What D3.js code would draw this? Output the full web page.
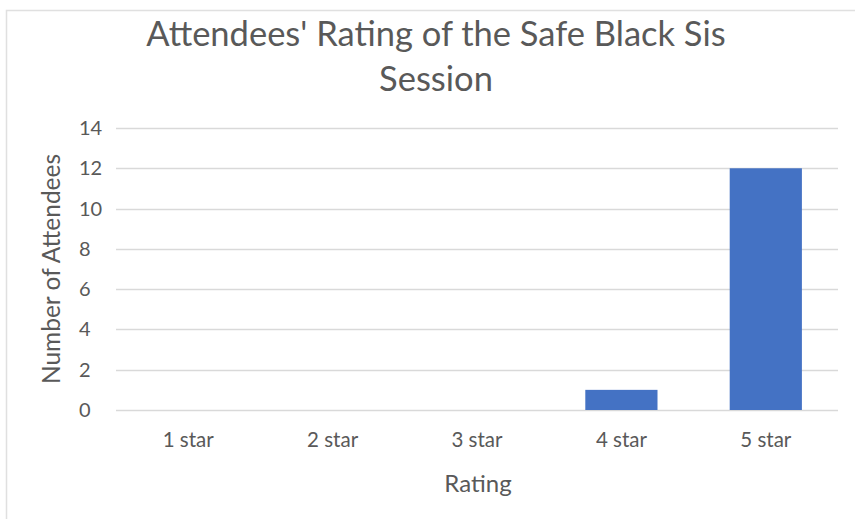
<!DOCTYPE html>
<html>
<head>
<meta charset="utf-8">
<script src="https://cdn.jsdelivr.net/npm/d3@7"></script>
<style>
  html, body { margin: 0; padding: 0; background: #fff; }
  svg { display: block; }
  text { font-family: Lato, "Open Sans", sans-serif; fill: #595959; }
</style>
</head>
<body>
<svg id="chart" width="855" height="519"></svg>
<script>
// Ratings and how many attendees gave each
const categories = ["1 star", "2 star", "3 star", "4 star", "5 star"];
const attendees = [0, 0, 0, 1, 12];
const yTicks = [0, 2, 4, 6, 8, 10, 12, 14];
const titleLines = ["Attendees' Rating of the Safe Black Sis", "Session"];
const xTitle = "Rating";
const yTitle = "Number of Attendees";

const svg = d3.select("#chart");
const W = 855, H = 519;

// Frame around the chart area (top and left edges)
svg.append("path")
  .attr("d", `M6.5,${H} V10.5 H${W}`)
  .attr("fill", "none")
  .attr("stroke", "#e0e0e0")
  .attr("stroke-width", 1.5);

const plot = { left: 116, right: 838, top: 128, bottom: 410 };

const x = d3.scaleBand()
  .domain(categories)
  .range([plot.left, plot.right])
  .paddingInner(0.5)
  .paddingOuter(0.25);

const y = d3.scaleLinear()
  .domain([0, 14])
  .range([plot.bottom, plot.top]);

// Gridlines
svg.append("g")
  .selectAll("line")
  .data(yTicks)
  .join("line")
  .attr("x1", plot.left)
  .attr("x2", plot.right)
  .attr("y1", d => Math.round(y(d)) + 0.5)
  .attr("y2", d => Math.round(y(d)) + 0.5)
  .attr("stroke", "#d9d9d9")
  .attr("stroke-width", 1.3);

// Bars
svg.append("g")
  .selectAll("rect")
  .data(categories.map((c, i) => ({ c, v: attendees[i] })).filter(d => d.v > 0))
  .join("rect")
  .attr("x", d => x(d.c))
  .attr("width", x.bandwidth())
  .attr("y", d => y(d.v))
  .attr("height", d => y(0) - y(d.v))
  .attr("fill", "#4472c4");

// Y tick labels
svg.append("g")
  .selectAll("text")
  .data(yTicks)
  .join("text")
  .attr("x", 79)
  .attr("y", d => y(d) + 7)
  .attr("text-anchor", "start")
  .attr("font-size", 20)
  .text(d => d);

// X tick labels
svg.append("g")
  .selectAll("text")
  .data(categories)
  .join("text")
  .attr("x", d => x(d) + x.bandwidth() / 2)
  .attr("y", 447)
  .attr("text-anchor", "middle")
  .attr("font-size", 20.5)
  .text(d => d);

// Axis titles
svg.append("text")
  .attr("x", 478)
  .attr("y", 492)
  .attr("text-anchor", "middle")
  .attr("font-size", 24)
  .text(xTitle);

svg.append("text")
  .attr("transform", `translate(60,${(plot.top + plot.bottom) / 2}) rotate(-90)`)
  .attr("text-anchor", "middle")
  .attr("font-size", 24.5)
  .text(yTitle);

// Title
svg.append("g")
  .selectAll("text")
  .data(titleLines)
  .join("text")
  .attr("x", 436)
  .attr("y", (d, i) => 46 + i * 45)
  .attr("text-anchor", "middle")
  .attr("font-size", 34.5)
  .text(d => d);
</script>
</body>
</html>
